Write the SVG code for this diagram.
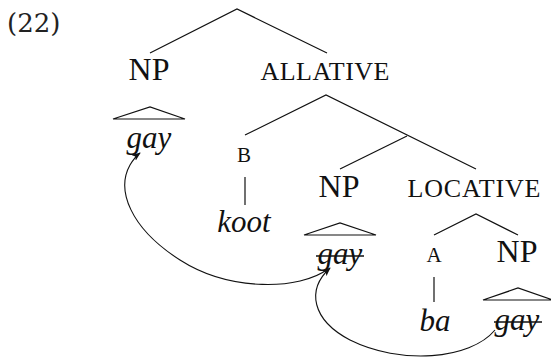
<svg xmlns="http://www.w3.org/2000/svg" width="551" height="358" viewBox="0 0 551 358">
<style>
.lbl{font-family:"Liberation Serif","Times New Roman",serif;fill:#111;text-anchor:middle}
.big{font-size:32px}
.sc{font-size:26px}
.sm{font-size:21px}
.it{font-family:"Liberation Serif","Times New Roman",serif;font-style:italic;font-size:31px;fill:#111;text-anchor:middle}
.br{stroke:#111;stroke-width:1.2;fill:none}
.arc{stroke:#111;stroke-width:1.1;fill:none;marker-end:url(#ah)}
.strike{stroke:#111;stroke-width:1.6}
</style>
<defs>
<marker id="ah" viewBox="0 0 10 10" refX="9" refY="5" markerWidth="9" markerHeight="9" markerUnits="userSpaceOnUse" orient="auto">
<path d="M0,1 L10,5 L0,9 L2.5,5 Z" fill="#111"/>
</marker>
</defs>
<rect width="551" height="358" fill="#fff"/>
<text x="7" y="32" style="font-family:'DejaVu Serif',serif;font-size:26px;fill:#222">(22)</text>
<g id="edges">
<path class="br" d="M150,53 L237,9 L327,53"/>
<path class="br" d="M245,135 L326,95 L476,169"/>
<path class="br" d="M340,169 L407,136"/>
<path class="br" d="M245,177 L245,205"/>
<path class="br" d="M434,235 L476,214 L518,235"/>
<path class="br" d="M434,277 L434,302"/>
</g>
<g id="np1"><text class="lbl big" x="149" y="80">NP</text><path class="br" d="M113,119 L150,107 L185,119 Z"/><text class="it" x="149" y="148">gay</text></g>
<g id="allative"><text class="lbl sc" x="325" y="80" textLength="129" lengthAdjust="spacing">ALLATIVE</text></g>
<g id="b"><text class="lbl sm" x="244" y="162">B</text><text class="it" x="244" y="232">koot</text></g>
<g id="np2"><text class="lbl big" x="339" y="197">NP</text><path class="br" d="M304,235 L340,223 L376,235 Z"/><text class="it" x="340" y="264">gay</text><line class="strike" x1="316" y1="256" x2="364" y2="256"/></g>
<g id="locative"><text class="lbl sc" x="474" y="197" textLength="133" lengthAdjust="spacing">LOCATIVE</text></g>
<g id="a"><text class="lbl sm" x="434" y="262">A</text><text class="it" x="435" y="331">ba</text></g>
<g id="np3"><text class="lbl big" x="517" y="262">NP</text><path class="br" d="M483,300 L518,288 L553,300 Z"/><text class="it" x="517" y="330">gay</text><line class="strike" x1="494" y1="322" x2="542" y2="322"/></g>
<g id="connectors">
<path class="arc" d="M328,269 C300,290 230,292 180,260 C130,228 116,190 130,165 C133,160 136,156 140,153"/>
<path class="arc" d="M495,330 C470,360 400,365 350,340 C312,320 306,290 330,268"/>
</g>
</svg>
